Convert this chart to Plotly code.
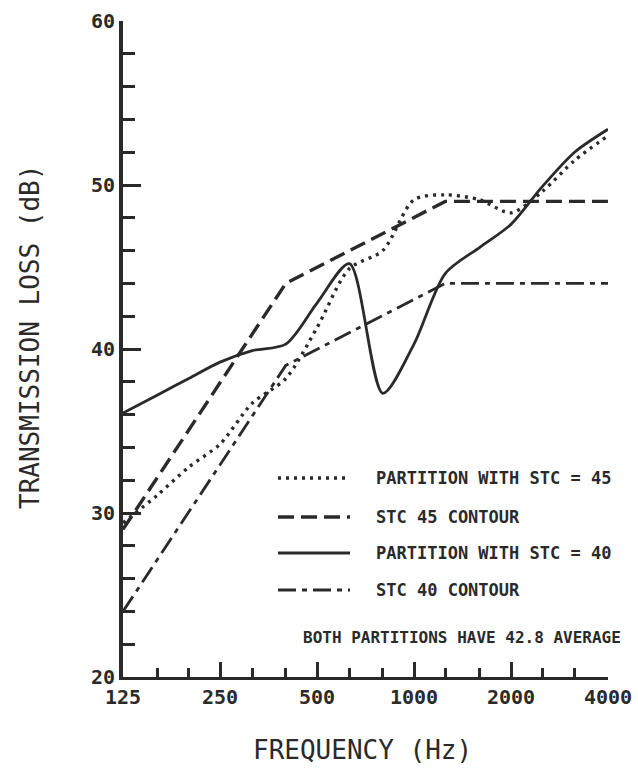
import plotly.graph_objects as go

# One-third-octave band centre frequencies (Hz)
freq = [125, 160, 200, 250, 315, 400, 500, 630, 800, 1000, 1250, 1600, 2000, 2500, 3150, 4000]

# Measured transmission loss (dB)
tl_stc45 = [29.4, 31.1, 32.8, 34.2, 36.7, 38.2, 41.3, 44.9, 46.0, 49.1, 49.4, 49.1, 48.3, 49.6, 51.5, 53.0]
tl_stc40 = [36.1, 37.2, 38.2, 39.2, 39.9, 40.3, 42.8, 45.2, 37.3, 40.3, 44.6, 46.2, 47.6, 49.9, 52.0, 53.4]

# STC reference contours (break points)
contour_freq = [125, 400, 1250, 4000]
contour_45 = [29, 44, 49, 49]
contour_40 = [24, 39, 44, 44]

major_x = [125, 250, 500, 1000, 2000, 4000]
minor_x = [160, 200, 315, 400, 630, 800, 1250, 1600, 2500, 3150]
major_y = [20, 30, 40, 50, 60]

legend_labels = [
    "PARTITION WITH STC = 45",
    "STC 45 CONTOUR",
    "PARTITION WITH STC = 40",
    "STC 40 CONTOUR",
]
note_text = "BOTH PARTITIONS HAVE 42.8 AVERAGE"

INK = "#2a2a2a"
FONT = "DejaVu Sans Mono"

styles = [
    dict(width=3.4, dash="3px,5px"),           # dotted
    dict(width=3.4, dash="16px,7px"),          # dashed
    dict(width=2.8, dash="solid"),             # solid
    dict(width=2.8, dash="18px,6px,5px,6px"),  # dash-dot
]

fig = go.Figure()

fig.add_trace(go.Scatter(x=freq, y=tl_stc45, mode="lines",
                         line=dict(color=INK, shape="spline", smoothing=0.8, **styles[0])))
fig.add_trace(go.Scatter(x=contour_freq, y=contour_45, mode="lines",
                         line=dict(color=INK, **styles[1])))
fig.add_trace(go.Scatter(x=freq, y=tl_stc40, mode="lines",
                         line=dict(color=INK, shape="spline", smoothing=0.8, **styles[2])))
fig.add_trace(go.Scatter(x=contour_freq, y=contour_40, mode="lines",
                         line=dict(color=INK, **styles[3])))

# Plot area in pixels
L, R, T, B = 123, 30, 21, 92
W, H = 638, 769
pw, ph = W - L - R, H - T - B


def px(xp):
    return (xp - L) / pw


def py(yp):
    return (H - B - yp) / ph


# Hand-drawn key inside the plot
rows = [478, 517, 553, 590]
for label, st, yrow in zip(legend_labels, styles, rows):
    fig.add_shape(type="line", xref="paper", yref="paper",
                  x0=px(278), x1=px(350), y0=py(yrow), y1=py(yrow),
                  line=dict(color=INK, width=st["width"], dash=st["dash"]))
    fig.add_annotation(xref="paper", yref="paper", x=px(374), y=py(yrow),
                       xanchor="left", yanchor="middle", showarrow=False,
                       text=label, font=dict(family=FONT, size=17, color=INK, weight="bold"))

fig.add_annotation(xref="paper", yref="paper", x=px(462), y=py(637),
                   xanchor="center", yanchor="middle", showarrow=False,
                   text=note_text, font=dict(family=FONT, size=16, color=INK, weight="bold"))

# Axis titles
fig.add_annotation(xref="paper", yref="paper", x=px(30), y=py(337),
                   xanchor="center", yanchor="middle", showarrow=False, textangle=-90,
                   text="TRANSMISSION LOSS (dB)", font=dict(family=FONT, size=26, color=INK))
fig.add_annotation(xref="paper", yref="paper", x=px(362), y=py(750),
                   xanchor="center", yanchor="middle", showarrow=False,
                   text="FREQUENCY (Hz)", font=dict(family=FONT, size=26, color=INK))

fig.update_layout(
    width=W, height=H,
    margin=dict(l=L, r=R, t=T, b=B, autoexpand=False),
    paper_bgcolor="white", plot_bgcolor="white",
    showlegend=False,
    xaxis=dict(
        type="log", range=[2.0969, 3.60206], automargin=False,
        tickmode="array", tickvals=major_x, ticktext=[str(v) for v in major_x],
        ticks="inside", ticklen=15, tickwidth=2.5, tickcolor=INK,
        showline=True, linewidth=3, linecolor=INK, showgrid=False, zeroline=False,
        tickfont=dict(family=FONT, size=20, color=INK, weight="bold"),
        minor=dict(tickmode="array", tickvals=minor_x, ticks="inside",
                   ticklen=9, tickwidth=2.5, tickcolor=INK, showgrid=False),
    ),
    yaxis=dict(
        range=[20, 60], automargin=False,
        tickmode="array", tickvals=major_y,
        ticks="inside", ticklen=18, tickwidth=2.5, tickcolor=INK,
        showline=True, linewidth=4, linecolor=INK, showgrid=False, zeroline=False,
        tickfont=dict(family=FONT, size=20, color=INK, weight="bold"),
        minor=dict(dtick=2, ticks="inside", ticklen=12, tickwidth=2.5,
                   tickcolor=INK, showgrid=False),
    ),
)

fig.write_html("out.html")
